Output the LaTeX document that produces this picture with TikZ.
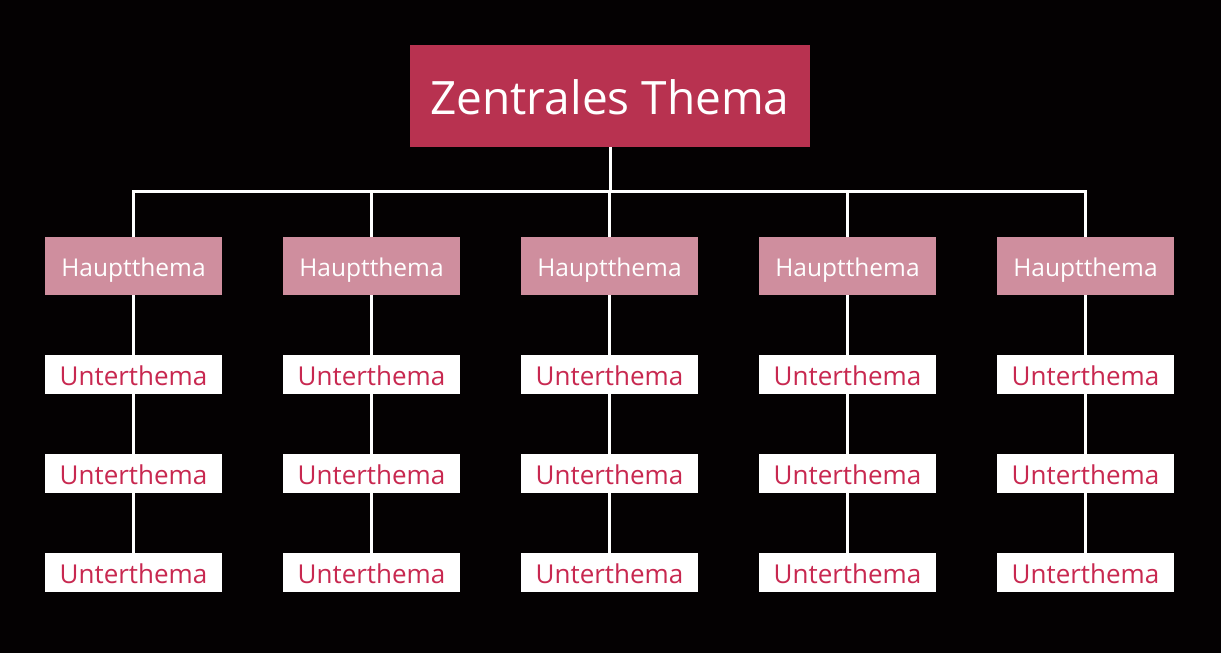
\documentclass[tikz,border=0pt]{standalone}
\usepackage{fontspec}
\setmainfont{Open Sans}
\definecolor{bg}{RGB}{4,1,2}
\definecolor{central}{RGB}{184,50,80}
\definecolor{haupt}{RGB}{207,142,158}
\definecolor{subtext}{RGB}{200,40,80}
\begin{document}
\begin{tikzpicture}[x=1pt,y=-1pt,
  centralbox/.style={fill=central,text=white,minimum width=400pt,minimum height=102pt,inner sep=0pt,text height=36pt,text depth=0pt,font=\fontsize{46}{52}\selectfont},
  hauptbox/.style={fill=haupt,text=white,minimum width=177pt,minimum height=58pt,inner sep=0pt,text height=20pt,text depth=0pt,font=\fontsize{24.5}{29}\selectfont},
  subbox/.style={fill=white,text=subtext,minimum width=177pt,minimum height=39pt,inner sep=0pt,text height=21pt,text depth=0pt,font=\fontsize{26}{31}\selectfont},
  link/.style={draw=white,line width=3pt}]
\fill[bg] (0,0) rectangle (1221,653);
\useasboundingbox (0,0) rectangle (1221,653);
\coordinate (busL) at (133.5,191);
\coordinate (busR) at (1085.5,191);
\coordinate (busM) at (610,191);
\node[centralbox] (c) at (610,96) {Zentrales Thema};
\foreach \i/\x in {1/133.5,2/371.5,3/609.5,4/847.5,5/1085.5}{
  \coordinate (b\i) at (\x,191);
  \node[hauptbox] (h\i) at (\x,266) {Hauptthema};
  \node[subbox] (s\i a) at (\x,374.5) {Unterthema};
  \node[subbox] (s\i b) at (\x,473.5) {Unterthema};
  \node[subbox] (s\i c) at (\x,572.5) {Unterthema};
}
\draw[link] (c.south) -- (busM);
\draw[link,line cap=rect] (busL) -- (busR);
\foreach \i in {1,...,5}{
  \draw[link] (b\i) -- (h\i.north);
  \draw[link] (h\i.south) -- (s\i a.north);
  \draw[link] (s\i a.south) -- (s\i b.north);
  \draw[link] (s\i b.south) -- (s\i c.north);
}
\end{tikzpicture}
\end{document}
